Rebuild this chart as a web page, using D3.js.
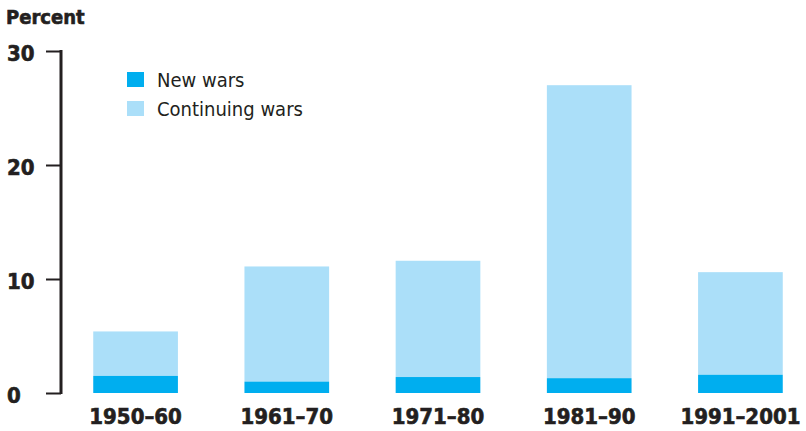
<!DOCTYPE html>
<html>
<head>
<meta charset="utf-8">
<script src="https://cdn.jsdelivr.net/npm/d3@7"></script>
<style>
  body { margin: 0; background: #fff; }
  svg text { fill: #231f20; }
  .bold { font-family: "Liberation Sans Narrow", "DejaVu Sans Condensed", sans-serif; font-weight: bold; stroke: #231f20; stroke-width: 0.6px; }
  .legend { font-family: "Liberation Sans Narrow", "DejaVu Sans Condensed", sans-serif; font-size: 20px; }
</style>
</head>
<body>
<svg id="chart"></svg>
<script>
const periods = ["1950–60", "1961–70", "1971–80", "1981–90", "1991–2001"];
const newWars = [1.5, 1.0, 1.4, 1.3, 1.6];
const totalWars = [5.4, 11.1, 11.6, 27.0, 10.6];
const yTicks = [0, 10, 20, 30];

const width = 806, height = 431;

const svg = d3.select('#chart')
  .attr('width', width)
  .attr('height', height);

const xScale = d3.scaleBand()
  .domain(periods)
  .range([63, 813])
  .paddingInner(0.44)
  .paddingOuter(0.2);

const yScale = d3.scaleLinear()
  .domain([0, 30])
  .range([393, 51]);

const data = periods.map((p, i) => ({ period: p, nw: newWars[i], total: totalWars[i] }));

// continuing wars (stacked on top of new wars)
svg.append('g').selectAll('rect')
  .data(data)
  .enter()
  .append('rect')
  .attr('x', d => xScale(d.period))
  .attr('width', xScale.bandwidth())
  .attr('y', d => yScale(d.total))
  .attr('height', d => yScale(d.nw) - yScale(d.total))
  .attr('fill', '#abdff9');

// new wars
svg.append('g').selectAll('rect')
  .data(data)
  .enter()
  .append('rect')
  .attr('x', d => xScale(d.period))
  .attr('width', xScale.bandwidth())
  .attr('y', d => yScale(d.nw))
  .attr('height', d => yScale(0) - yScale(d.nw))
  .attr('fill', '#00aeef');

// y axis
const yAxis = svg.append('g')
  .attr('transform', 'translate(61, 0)')
  .call(d3.axisLeft(yScale).tickValues(yTicks).tickSize(15).tickPadding(11).tickSizeOuter(0));
yAxis.select('.domain')
  .attr('stroke', '#231f20')
  .attr('stroke-width', 3)
  .attr('d', `M0,${yScale(30) - 1}V${yScale(0) + 1}`);
yAxis.selectAll('.tick line').attr('stroke', '#231f20').attr('stroke-width', 2);
yAxis.selectAll('.tick text')
  .attr('class', 'bold')
  .style('font-size', '22px')
  .attr('text-anchor', 'start')
  .attr('x', -54)
  .attr('dy', '0.45em');

// x labels
svg.append('g').selectAll('text')
  .data(periods)
  .enter()
  .append('text')
  .attr('class', 'bold')
  .style('font-size', '22px')
  .attr('x', d => xScale(d) + xScale.bandwidth() / 2)
  .attr('y', 424)
  .attr('text-anchor', 'middle')
  .text(d => d);

// y title
svg.append('text')
  .attr('class', 'bold')
  .style('font-size', '20px')
  .attr('x', 6)
  .attr('y', 24)
  .text('Percent');

// legend
const legendItems = [
  { label: 'New wars', color: '#00aeef' },
  { label: 'Continuing wars', color: '#abdff9' }
];
const legend = svg.append('g').selectAll('g')
  .data(legendItems)
  .enter()
  .append('g')
  .attr('transform', (d, i) => `translate(127, ${72 + i * 29})`);
legend.append('rect')
  .attr('width', 17)
  .attr('height', 15)
  .attr('fill', d => d.color);
legend.append('text')
  .attr('class', 'legend')
  .attr('x', 30)
  .attr('y', 15)
  .text(d => d.label);
</script>
</body>
</html>
